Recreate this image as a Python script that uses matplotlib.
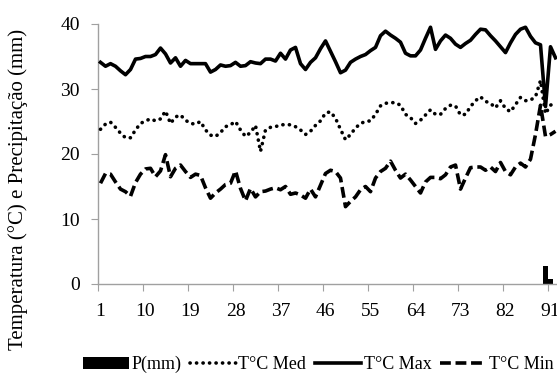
import matplotlib
matplotlib.use("Agg")
import matplotlib.pyplot as plt
import numpy as np

plt.rcParams['font.family'] = ['Liberation Serif', 'DejaVu Serif']

days = list(range(1, 93))
t_max = [34.1, 33.5, 33.9, 33.5, 32.8, 32.2, 33.0, 34.6, 34.7, 35.0,
         35.0, 35.3, 36.3, 35.4, 34.0, 34.8, 33.5, 34.4, 33.9, 33.9,
         33.9, 33.9, 32.6, 33.0, 33.7, 33.5, 33.6, 34.1, 33.5, 33.6,
         34.2, 34.0, 33.9, 34.6, 34.6, 34.3, 35.5, 34.6, 36.0, 36.4,
         33.9, 33.0, 34.1, 34.8, 36.2, 37.4, 35.8, 34.2, 32.5, 32.9,
         34.1, 34.6, 35.0, 35.3, 35.9, 36.4, 38.2, 38.9, 38.3, 37.8,
         37.2, 35.5, 35.1, 35.1, 36.0, 37.8, 39.5, 36.1, 37.4, 38.3,
         37.8, 36.9, 36.4, 37.0, 37.5, 38.4, 39.2, 39.1, 38.2, 37.4,
         36.5, 35.6, 37.1, 38.4, 39.2, 39.5, 38.1, 37.1, 36.8, 27.3,
         36.5, 34.8]
t_med = [23.8, 24.6, 24.9, 24.1, 23.2, 22.5, 22.5, 23.7, 24.7, 25.1,
         25.4, 25.1, 25.4, 26.6, 24.7, 25.7, 26.0, 25.2, 24.7, 24.6,
         25.0, 23.7, 22.9, 22.7, 23.3, 24.2, 24.5, 25.0, 23.7, 22.7,
         23.3, 24.4, 20.4, 23.7, 24.1, 24.2, 24.5, 24.5, 24.5, 24.2,
         23.7, 23.0, 23.5, 24.4, 25.1, 26.3, 26.5, 25.5, 23.8, 22.2,
         23.0, 24.0, 24.7, 25.0, 25.1, 26.1, 27.4, 27.8, 27.9, 27.9,
         27.5, 26.1, 25.6, 24.7, 25.2, 26.0, 26.8, 26.1, 26.1, 27.0,
         27.5, 27.4, 26.0, 26.1, 27.3, 28.2, 28.8, 28.1, 27.8, 27.1,
         28.2, 27.0, 26.5, 27.6, 28.7, 28.2, 28.3, 28.8, 31.3, 26.2,
         27.5, 28.0]
t_min = [15.5, 17.0, 16.9, 15.7, 14.6, 14.2, 13.5, 15.6, 16.9, 17.7,
         17.8, 16.5, 17.4, 19.9, 16.5, 17.8, 18.3, 17.3, 16.4, 16.9,
         16.7, 14.8, 13.2, 14.0, 14.6, 15.3, 15.5, 17.4, 14.7, 12.8,
         14.7, 13.4, 14.2, 14.3, 14.6, 14.8, 14.5, 15.0, 13.8, 14.0,
         13.7, 13.2, 14.6, 13.4, 15.2, 17.0, 17.5, 17.3, 16.3, 11.9,
         12.7, 13.4, 14.5, 15.0, 14.2, 16.3, 17.3, 17.8, 18.9, 17.5,
         16.3, 16.9, 16.0, 15.0, 14.0, 15.7, 16.4, 16.4, 16.2, 16.8,
         18.0, 18.3, 14.6, 16.3, 17.9, 18.0, 18.0, 17.5, 18.0, 17.3,
         18.7, 17.3, 16.8, 18.0, 18.6, 18.0, 19.2, 23.0, 27.5, 22.7,
         23.0, 23.5]
precip = [0.0] * 89 + [2.8, 0.8, 0.0]

xtick_labels = [1, 10, 19, 28, 37, 46, 55, 64, 73, 82, 91]

fig = plt.figure(figsize=(5.57, 3.76), dpi=100)
ax = fig.add_axes([98/557, 1 - 284/376, 1 - 98/557, 260/376])

ax.bar(days, precip, width=1.0, color='black', label='P(mm)', zorder=2)
ax.plot(days, t_med, color='black', lw=2.6, linestyle=(0, (0.05, 1.75)),
        dash_capstyle='round', label='T°C Med', zorder=3)
ax.plot(days, t_max, color='black', lw=2.6, solid_joinstyle='round', label='T°C Max', zorder=3)
ax.plot(days, t_min, color='black', lw=2.6, linestyle=(0, (3.0, 1.3)),
        label='T°C Min', zorder=3)

ax.set_xlim(0.5, 92.3)
ax.set_ylim(0, 40)
ax.set_yticks([0, 10, 20, 30, 40])
ax.set_xticks([v - 0.5 for v in xtick_labels])
ax.set_xticklabels([])
ax.set_xticks(xtick_labels, minor=True)
ax.set_xticklabels([str(v) for v in xtick_labels], minor=True)
ax.tick_params(axis='x', which='minor', length=0, pad=14, labelsize=14)
ax.tick_params(axis='x', which='major', length=5, color='#a0a0a0', direction='out')
ax.tick_params(axis='y', length=5, color='#a0a0a0', direction='out', pad=8, labelsize=14)

for s in ['top', 'right']:
    ax.spines[s].set_visible(False)
for s in ['left', 'bottom']:
    ax.spines[s].set_color('#a0a0a0')
    ax.spines[s].set_linewidth(1.0)

ax.set_ylabel('Temperatura (°C) e Precipitação (mm)', fontsize=15)
ax.yaxis.set_label_coords((28 - 98) / 459, (284 - 189) / 260)

handles, labels = ax.get_legend_handles_labels()
order = [3, 0, 1, 2]
leg = fig.legend([handles[i] for i in order], [labels[i] for i in order],
                 loc='center', bbox_to_anchor=(0.571, 0.03), ncol=4, frameon=False,
                 fontsize=13, handlelength=2.55, handletextpad=0.12, columnspacing=0.5,
                 borderaxespad=0, borderpad=0)

fig.savefig('out.png', dpi=100)
